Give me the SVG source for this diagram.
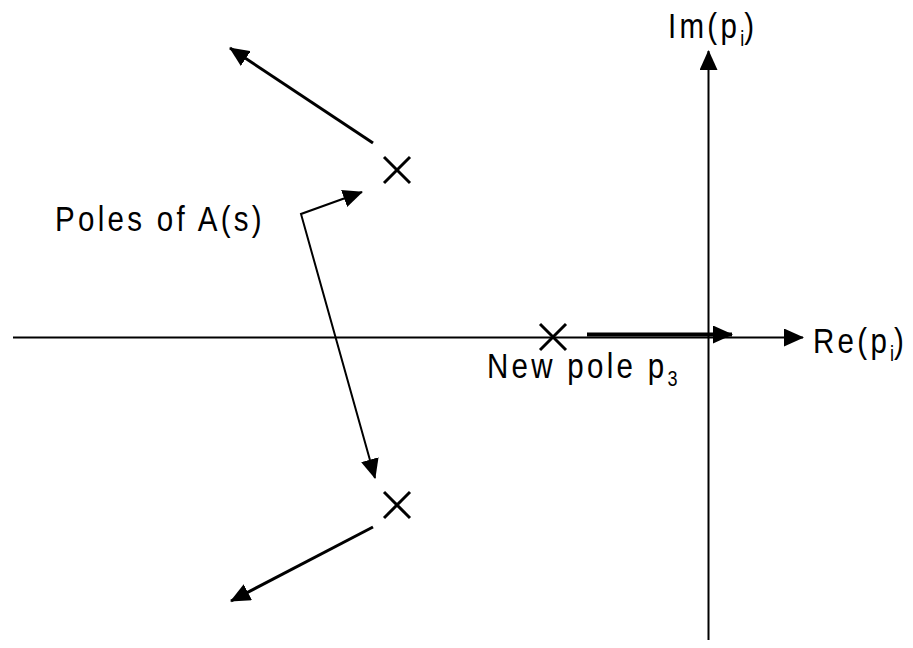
<svg xmlns="http://www.w3.org/2000/svg" width="913" height="648" viewBox="0 0 913 648">
  <style>
    .t { font-family: "Liberation Sans", Arial, sans-serif; font-size: 36px; letter-spacing: 4px; fill: #000; }
    .sub { font-size: 22px; letter-spacing: 0; }
    .ln { stroke: #000; fill: none; stroke-linecap: butt; }
    .x { stroke: #000; stroke-width: 3; }
  </style>
  <defs>
    <marker id="ah" markerUnits="userSpaceOnUse" markerWidth="20" markerHeight="18" refX="19" refY="9" orient="auto-start-reverse" viewBox="0 0 20 18">
      <path d="M0,0 L20,9 L0,18 z" fill="#000"/>
    </marker>
  </defs>
  <rect width="913" height="648" fill="#fff"/>

  <g id="connectors">
    <line class="ln" x1="13" y1="337.5" x2="803" y2="337.5" stroke-width="2" marker-end="url(#ah)"/>
    <line class="ln" x1="708.5" y1="640" x2="708.5" y2="51" stroke-width="2" marker-end="url(#ah)"/>
    <line class="ln" x1="587" y1="334.5" x2="732" y2="334.5" stroke-width="4" marker-end="url(#ah)"/>
    <line class="ln" x1="373" y1="143" x2="230" y2="48" stroke-width="3" marker-end="url(#ah)"/>
    <line class="ln" x1="373" y1="527" x2="231" y2="601" stroke-width="3" marker-end="url(#ah)"/>
    <path class="ln" d="M362,192 L301,214 L375,478" stroke-width="2" marker-start="url(#ah)" marker-end="url(#ah)"/>
  </g>

  <g id="pole-upper">
    <line class="x" x1="384" y1="157" x2="410" y2="183"/>
    <line class="x" x1="410" y1="157" x2="384" y2="183"/>
  </g>
  <g id="pole-lower">
    <line class="x" x1="384" y1="492" x2="410" y2="518"/>
    <line class="x" x1="410" y1="492" x2="384" y2="518"/>
  </g>
  <g id="pole-new">
    <line class="x" x1="540" y1="324" x2="566" y2="350"/>
    <line class="x" x1="566" y1="324" x2="540" y2="350"/>
  </g>

  <g id="label-poles">
    <text class="t" transform="translate(55,231) scale(0.82,1)">Poles of A(s)</text>
  </g>
  <g id="label-new-pole">
    <text class="t" transform="translate(487,378) scale(0.82,1)">New pole p<tspan class="sub" dy="8">3</tspan></text>
  </g>
  <g id="label-re">
    <text class="t" transform="translate(813,353) scale(0.82,1)">Re(p<tspan class="sub" dy="8">i</tspan><tspan dy="-8">)</tspan></text>
  </g>
  <g id="label-im">
    <text class="t" transform="translate(668,38) scale(0.82,1)">Im(p<tspan class="sub" dy="8">i</tspan><tspan dy="-8">)</tspan></text>
  </g>
</svg>
